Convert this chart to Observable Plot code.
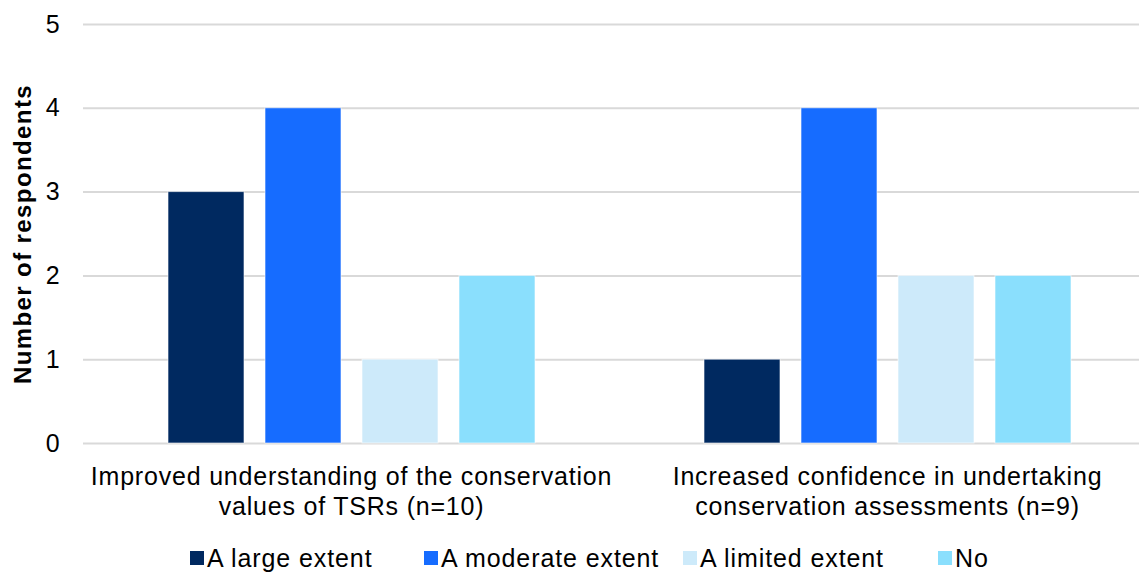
<!DOCTYPE html>
<html>
<head>
<meta charset="utf-8">
<script src="https://cdn.jsdelivr.net/npm/d3@7"></script>
<script src="https://cdn.jsdelivr.net/npm/@observablehq/plot@0.6"></script>
<style>
  html, body { margin: 0; padding: 0; background: #fff; overflow: hidden; width: 1139px; height: 572px; }
  #chart { position: relative; width: 1155px; }
  #chart svg { max-width: none !important; letter-spacing: 0.8px; }
  #chart svg .ylab text { letter-spacing: 1.4px; }
  #legend { position: absolute; left: 0; top: 544px; width: 1139px; font-family: "Liberation Sans", Arial, sans-serif; font-size: 25px; letter-spacing: 0.9px; color: #000; }
  .item { position: absolute; top: 0; display: flex; align-items: center; white-space: nowrap; line-height: 28px; }
  .sw { width: 14px; height: 14px; margin-right: 3px; display: inline-block; }
</style>
</head>
<body>
<div id="chart"></div>
<div id="legend"></div>
<script>
const categories = [
  "Improved understanding of the conservation\nvalues of TSRs (n=10)",
  "Increased confidence in undertaking\nconservation assessments (n=9)"
];
const seriesNames = ["A large extent", "A moderate extent", "A limited extent", "No"];
const colors = ["#002960", "#166cff", "#cdeafa", "#8adffd"];
const valuesImproved = [3, 4, 1, 2];
const valuesConfidence = [1, 4, 2, 2];
const yTicks = [0, 1, 2, 3, 4, 5];

const data = [];
seriesNames.forEach((s, i) => {
  data.push({category: categories[0], series: s, value: valuesImproved[i]});
  data.push({category: categories[1], series: s, value: valuesConfidence[i]});
});

const plot = Plot.plot({
  width: 1155,
  height: 530,
  marginLeft: 82,
  marginRight: 0,
  marginTop: 24,
  marginBottom: 87,
  style: {fontFamily: "'Liberation Sans', Arial, sans-serif", fontSize: "25px", color: "#000", background: "#fff"},
  fx: {domain: categories, padding: 0, label: null},
  x: {domain: seriesNames, paddingInner: 0.2165, paddingOuter: 0.871, axis: null},
  y: {domain: [0, 5], ticks: yTicks, label: null},
  color: {domain: seriesNames, range: colors},
  marks: [
    Plot.ruleY(yTicks, {stroke: "#d9d9d9", strokeWidth: 2}),
    Plot.barY(data, {fx: "category", x: "series", y: "value", fill: "series", stroke: "#fff", strokeWidth: 1, strokeOpacity: 0.6}),
    Plot.axisY({ticks: yTicks, tickFormat: "d", tickSize: 0, tickPadding: 23, fontSize: 25, label: null}),
    Plot.axisFx({anchor: "bottom", tickSize: 0, tickPadding: 20, fontSize: 25, lineHeight: 1.2, label: null}),
    Plot.text(["Number of respondents"], {frameAnchor: "left", textAnchor: "middle", rotate: -90, dx: -60, fontWeight: "bold", fontSize: 24, facetAnchor: "left", className: "ylab"})
  ]
});
document.getElementById("chart").appendChild(plot);

const legend = document.getElementById("legend");
const lefts = [190, 424, 683, 938];
seriesNames.forEach((s, i) => {
  const it = document.createElement("div");
  it.className = "item";
  it.style.left = lefts[i] + "px";
  const sw = document.createElement("span");
  sw.className = "sw";
  sw.style.background = colors[i];
  const t = document.createElement("span");
  t.textContent = s;
  it.appendChild(sw);
  it.appendChild(t);
  legend.appendChild(it);
});
</script>
</body>
</html>
